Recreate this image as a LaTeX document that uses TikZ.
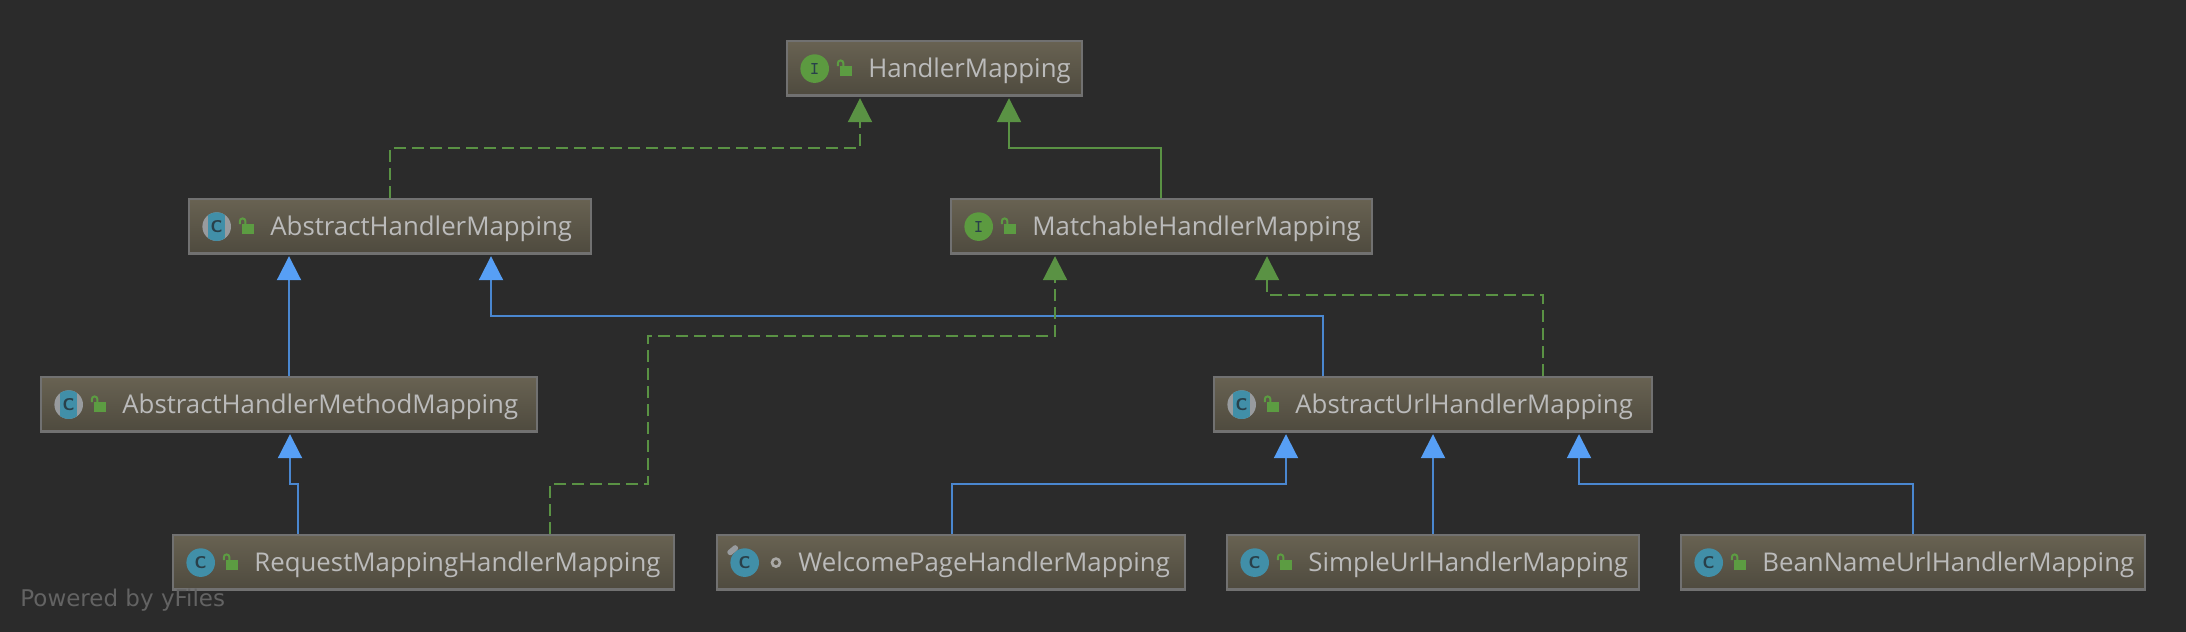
\documentclass[tikz,border=0pt]{standalone}
\usepackage{fontspec}
\setmainfont{Open Sans}
\newfontfamily\yfilesfont{DejaVu Sans}
\usetikzlibrary{positioning,calc,arrows.meta}
\definecolor{canvasbg}{HTML}{2B2B2B}
\definecolor{boxtop}{HTML}{686252}
\definecolor{boxbottom}{HTML}{4E4A3E}
\definecolor{boxedge}{HTML}{717171}
\definecolor{labeltext}{HTML}{BBBBBB}
\definecolor{implgreen}{HTML}{5A9244}
\definecolor{extblue}{HTML}{579FF5}
\definecolor{ifacegreen}{HTML}{5C9A40}
\definecolor{classteal}{HTML}{418FA8}
\definecolor{icongray}{HTML}{989B9E}
\definecolor{iconink}{HTML}{29404A}
\definecolor{lockgreen}{HTML}{5C9C42}
\def\IconGap{7pt}
\def\TextGap{41pt}
\tikzset{
	classbox/.style={draw=boxedge,line width=1pt,top color=boxtop,bottom color=boxbottom,minimum height=27.6pt,inner sep=0pt,anchor=north west,path picture={\fill[boxedge] ([yshift=1pt]path picture bounding box.south west) rectangle (path picture bounding box.south east);}},
	classtext/.style={text=labeltext,font=\fontsize{12.9}{16}\selectfont,inner sep=0pt,text height=9.2pt,text depth=0pt},
	iconbase/.style={circle,minimum size=14.3pt,inner sep=0pt,font=\fontsize{8.5}{9}\selectfont\sffamily\bfseries,text=iconink},
	ifaceicon/.style={iconbase,fill=ifacegreen,font=\fontsize{9}{9}\selectfont\ttfamily\bfseries},
	classicon/.style={iconbase,fill=classteal},
	absicon/.style={iconbase,fill=icongray,path picture={\fill[classteal] ([xshift=-4.3pt]path picture bounding box.south) rectangle ([xshift=4.3pt]path picture bounding box.north);}},
	pinicon/.style={fill=icongray,rotate=40,minimum width=6pt,minimum height=2.8pt,inner sep=0pt,rounded corners=1.2pt},
	dotrim/.style={circle,draw=labeltext!80!boxtop,line width=1.3pt,minimum size=4pt,inner sep=0pt},
	implline/.style={draw=implgreen,line width=1pt,dash pattern=on 6pt off 3pt,shorten >=0.5pt,-{Triangle[length=12pt,width=12pt,color=implgreen]}},
	iflline/.style={draw=implgreen,line width=1pt,shorten >=0.5pt,-{Triangle[length=12pt,width=12pt,color=implgreen]}},
	extline/.style={draw=extblue!85!black,line width=1pt,shorten >=0.5pt,-{Triangle[length=12pt,width=12pt,color=extblue]}},
	lockicon/.pic={
		\fill[lockgreen] (-2.5pt,1.3pt) rectangle (3.5pt,-3.7pt);
		\draw[lockgreen,line width=1pt] (-3.6pt,1.2pt) -- (-3.6pt,2.7pt) arc[start angle=180,end angle=0,radius=1.4pt] -- (-0.8pt,1.3pt);
	},
}
\begin{document}
\begin{tikzpicture}[x=0.5pt,y=-0.5pt]
	\fill[canvasbg] (0,0) rectangle (2186,632);
	\useasboundingbox (0,0) rectangle (2186,632);
	% top row
	\node[classbox,minimum width=147.5pt] (hm) at (786,40) {};
	\node[classbox,minimum width=201pt] (ahm) at (188,198) {};
	\node[classbox,minimum width=210.5pt] (mhm) at (950,198) {};
	% middle row
	\node[classbox,minimum width=248pt] (ahmm) at (40,376) {};
	\node[classbox,minimum width=219pt] (auhm) at (1213,376) {};
	% bottom row
	\node[classbox,minimum width=250.5pt] (rmhm) at (172,534) {};
	\node[classbox,minimum width=234pt] (wphm) at (716,534) {};
	\node[classbox,minimum width=206pt] (suhm) at (1226,534) {};
	\node[classbox,minimum width=231.75pt] (bnhm) at (1680,534) {};
	% icons
	\node[ifaceicon,right=\IconGap of hm.west] (hmicon) {I};
	\node[absicon,right=\IconGap of ahm.west] (ahmicon) {C};
	\node[ifaceicon,right=\IconGap of mhm.west] (mhmicon) {I};
	\node[absicon,right=\IconGap of ahmm.west] (ahmmicon) {C};
	\node[absicon,right=\IconGap of auhm.west] (auhmicon) {C};
	\node[classicon,right=\IconGap of rmhm.west] (rmhmicon) {C};
	\node[classicon,right=\IconGap of wphm.west] (wphmicon) {C};
	\node[pinicon] (wphmpin) at ($(wphmicon.north west)+(-0.8pt,1pt)$) {};
	\node[classicon,right=\IconGap of suhm.west] (suhmicon) {C};
	\node[classicon,right=\IconGap of bnhm.west] (bnhmicon) {C};
	% access marks
	\pic at ($(hm.west)+(59,0)$) {lockicon};
	\pic at ($(ahm.west)+(59,0)$) {lockicon};
	\pic at ($(mhm.west)+(59,0)$) {lockicon};
	\pic at ($(ahmm.west)+(59,0)$) {lockicon};
	\pic at ($(auhm.west)+(59,0)$) {lockicon};
	\pic at ($(rmhm.west)+(59,0)$) {lockicon};
	\node[dotrim] (wphmdot) at ($(wphm.west)+(60,0)$) {};
	\pic at ($(suhm.west)+(59,0)$) {lockicon};
	\pic at ($(bnhm.west)+(59,0)$) {lockicon};
	% labels
	\node[classtext,right=\TextGap of hm.west] (hmtext) {HandlerMapping};
	\node[classtext,right=\TextGap of ahm.west] (ahmtext) {AbstractHandlerMapping};
	\node[classtext,right=\TextGap of mhm.west] (mhmtext) {MatchableHandlerMapping};
	\node[classtext,right=\TextGap of ahmm.west] (ahmmtext) {AbstractHandlerMethodMapping};
	\node[classtext,right=\TextGap of auhm.west] (auhmtext) {AbstractUrlHandlerMapping};
	\node[classtext,right=\TextGap of rmhm.west] (rmhmtext) {RequestMappingHandlerMapping};
	\node[classtext,right=\TextGap of wphm.west] (wphmtext) {WelcomePageHandlerMapping};
	\node[classtext,right=\TextGap of suhm.west] (suhmtext) {SimpleUrlHandlerMapping};
	\node[classtext,right=\TextGap of bnhm.west] (bnhmtext) {BeanNameUrlHandlerMapping};
	% edges
	\draw[implline] (ahm.north -| 390,0) |- (860,148) -- (hm.south -| 860,0);
	\draw[iflline] (mhm.north -| 1161,0) |- (1009,148) -- (hm.south -| 1009,0);
	\draw[extline] (ahmm.north -| 289,0) -- (ahm.south -| 289,0);
	\draw[extline] (auhm.north -| 1323,0) |- (491,316) -- (ahm.south -| 491,0);
	\draw[implline] (auhm.north -| 1543,0) |- (1267,295) -- (mhm.south -| 1267,0);
	\draw[implline] (rmhm.north -| 550,0) |- (648,484) |- (1055,336) -- (mhm.south -| 1055,0);
	\draw[extline] (rmhm.north -| 298,0) |- (290,484) -- (ahmm.south -| 290,0);
	\draw[extline] (wphm.north -| 952,0) |- (1286,484) -- (auhm.south -| 1286,0);
	\draw[extline] (suhm.north -| 1433,0) -- (auhm.south -| 1433,0);
	\draw[extline] (bnhm.north -| 1913,0) |- (1579,484) -- (auhm.south -| 1579,0);
	% watermark
	\node[anchor=west,text=boxedge!80!canvasbg,inner sep=0pt,font=\yfilesfont\fontsize{11.5}{13}\selectfont] (yfiles) at (20,600) {Powered by yFiles};
\end{tikzpicture}
\end{document}
